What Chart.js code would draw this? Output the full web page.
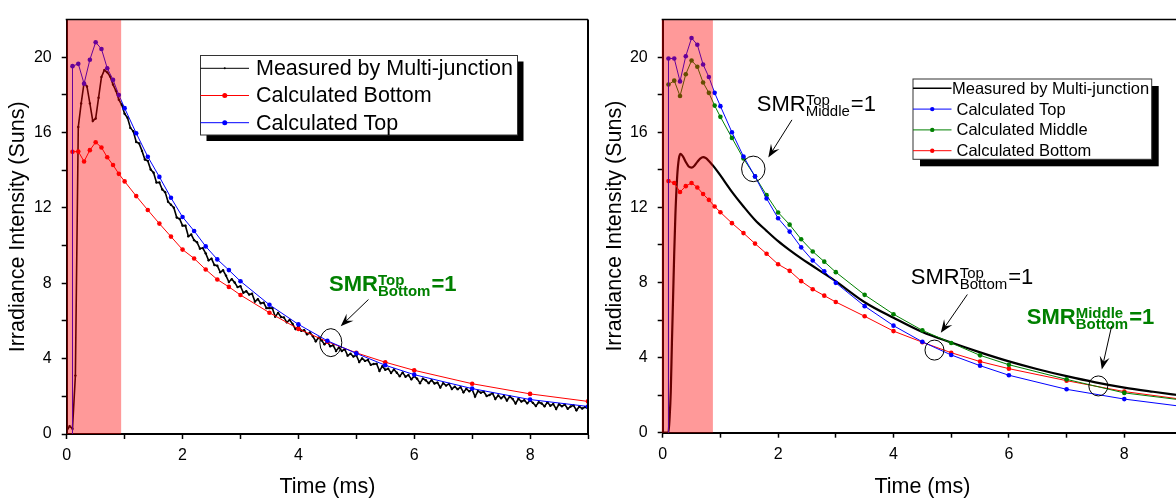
<!DOCTYPE html>
<html>
<head>
<meta charset="utf-8">
<title>Irradiance intensity</title>
<script src="https://cdn.jsdelivr.net/npm/chart.js@4.4.1/dist/chart.umd.min.js"></script>
<style>
	html, body { margin: 0; padding: 0; background: #ffffff; overflow: hidden; }
	.panel { position: absolute; top: 0; width: 600px; height: 501px; }
	#panel_left { left: 0; }
	#panel_right { left: 600px; }
</style>
</head>
<body>
<div class="panel" id="panel_left"><canvas id="chart_left" width="600" height="501"></canvas></div>
<div class="panel" id="panel_right"><canvas id="chart_right" width="600" height="501"></canvas></div>
<script>
//
// Time stamps (ms) of the calculated points, shared by both panels.
//	Note : the first point is the vertical rise from zero.
//
const calc_time = [ 0.1, 0.1, 0.2, 0.3, 0.4, 0.5, 0.6, 0.7, 0.8, 0.9, 1.0,
	1.2, 1.4, 1.6, 1.8, 2.0, 2.2, 2.4, 2.6, 2.8, 3.0,
	3.5, 4.0, 4.5, 5.0, 5.5, 6.0, 7.0, 8.0, 9.0 ];

// Left panel : calculated from the top and bottom isotype cells.
const left_top = [ 0, 19.53, 19.65, 18.6, 19.87, 20.8, 20.44, 19.42, 18.8, 18.0, 17.3,
	15.97, 14.72, 13.65, 12.54, 11.52, 10.78, 9.96, 9.27, 8.7, 8.11,
	6.86, 5.82, 4.95, 4.28, 3.65, 3.15, 2.41, 1.83, 1.46 ];
const left_bottom = [ 0, 14.98, 15.0, 14.47, 15.07, 15.49, 15.21, 14.69, 14.28, 13.81, 13.41,
	12.63, 11.89, 11.17, 10.48, 9.79, 9.32, 8.73, 8.2, 7.81, 7.38,
	6.44, 5.58, 4.9, 4.31, 3.81, 3.38, 2.67, 2.13, 1.73 ];

// Left panel : raw multi-junction record, one sample every 0.05 ms.
const measured_step = 0.05;
const left_measured = [
	0.15, 0.42, 0.28, 3.1, 16.3, 17.55, 18.65, 18.45, 17.55, 16.62,
	16.75, 17.85, 18.95, 19.32, 19.2, 18.98, 18.55, 18.22, 17.75, 17.48,
	17.0, 16.79, 16.25, 16.07, 15.5, 15.43, 15.03, 14.57, 14.5, 14.04,
	13.87, 13.35, 13.35, 12.98, 12.84, 12.33, 12.17, 12.01, 11.49, 11.42,
	11.06, 11.06, 10.5, 10.59, 10.29, 10.18, 9.84, 9.87, 9.59, 9.22,
	9.31, 8.97, 8.93, 8.59, 8.69, 8.41, 8.07, 8.22, 8.04, 7.8,
	7.85, 7.5, 7.58, 7.4, 7.45, 7.03, 7.16, 6.94, 6.97, 6.68,
	6.68, 6.68, 6.23, 6.43, 6.21, 6.19, 5.93, 6.06, 5.84, 5.57,
	5.72, 5.48, 5.51, 5.29, 5.39, 5.19, 4.92, 5.11, 4.98, 4.76,
	4.9, 4.66, 4.71, 4.41, 4.59, 4.41, 4.5, 4.16, 4.26, 4.11,
	4.18, 3.82, 4.01, 3.88, 3.93, 3.67, 3.72, 3.73, 3.35, 3.6,
	3.41, 3.47, 3.24, 3.43, 3.25, 3.07, 3.26, 3.04, 3.13, 2.91,
	3.07, 2.93, 2.7, 2.94, 2.85, 2.7, 2.86, 2.68, 2.73, 2.47,
	2.7, 2.57, 2.66, 2.39, 2.51, 2.38, 2.49, 2.21, 2.4, 2.27,
	2.37, 1.99, 2.28, 2.19, 2.24, 2.02, 2.07, 2.17, 1.86, 2.05,
	1.9, 2.02, 1.78, 1.99, 1.86, 1.62, 1.87, 1.72, 1.79, 1.63,
	1.78, 1.65, 1.49, 1.69, 1.62, 1.47, 1.68, 1.5, 1.59, 1.33,
	1.58, 1.47, 1.56, 1.34, 1.46, 1.52, 1.26, 1.45, 1.35, 1.43,
	1.35 ];

// Right panel : calculated from the top, middle and bottom isotype cells.
const right_top = [ 0, 19.93, 19.93, 18.71, 20.05, 21.02, 20.66, 19.61, 18.94, 18.1, 17.39,
	16.0, 14.71, 13.65, 12.47, 11.42, 10.71, 9.87, 9.17, 8.6, 7.98,
	6.74, 5.7, 4.84, 4.14, 3.57, 3.06, 2.31, 1.79, 1.4 ];
const right_middle = [ 0, 18.54, 18.75, 17.93, 19.09, 19.82, 19.49, 18.65, 18.1, 17.42, 16.82,
	15.7, 14.6, 13.65, 12.65, 11.73, 11.08, 10.3, 9.65, 9.11, 8.55,
	7.34, 6.31, 5.45, 4.78, 4.12, 3.62, 2.84, 2.12, 1.74 ];
const right_bottom = [ 0, 13.4, 13.3, 12.82, 13.13, 13.3, 13.06, 12.71, 12.4, 12.05, 11.74,
	11.16, 10.63, 10.07, 9.53, 8.97, 8.62, 8.07, 7.64, 7.3, 6.96,
	6.2, 5.41, 4.82, 4.26, 3.79, 3.41, 2.77, 2.19, 1.78 ];

// Right panel : smoothed multi-junction record.
const right_measured_time = [ 0, 0.1, 0.12, 0.14, 0.16, 0.18, 0.2, 0.22, 0.25, 0.28,
	0.31, 0.35, 0.4, 0.45, 0.5, 0.55, 0.6, 0.65, 0.7, 0.75,
	0.8, 0.85, 0.9, 1.0, 1.2, 1.4, 1.6, 1.8, 2.0, 2.2,
	2.4, 2.6, 2.8, 3.0, 3.5, 4.0, 4.5, 5.0, 5.5, 6.0,
	6.5, 7.0, 7.5, 8.0, 8.5, 9.0 ];
const right_measured = [ 0, 0, 0.8, 2.2, 4.8, 7.2, 9.6, 11.6, 13.6, 14.6,
	14.85, 14.72, 14.42, 14.18, 14.12, 14.22, 14.42, 14.6, 14.68, 14.62,
	14.47, 14.3, 14.12, 13.7, 12.83, 12.05, 11.33, 10.75, 10.2, 9.72,
	9.28, 8.88, 8.47, 8.06, 6.95, 6.12, 5.36, 4.8, 4.28, 3.8,
	3.38, 3.01, 2.68, 2.4, 2.18, 1.98 ];

// Flash pulse duration (ms) shaded on each panel.
const left_pulse = [ 0, 0.94 ];
const right_pulse = [ 0, 0.87 ];

Chart.defaults.font.family = "'Liberation Sans', Arial, sans-serif";
Chart.defaults.color = "#000000";

// Pairs a time array with a value array.
function to_points( times, values )
{
	return values.map( ( value, indice ) => ( { x: times[ indice ], y: value } ) );
}

// Hides the marker of the very first (zero) point.
function calc_radius( radius )
{
	return ( context ) => context.dataIndex === 0 ? 0 : radius;
}

//
// Translucent red band over the flash pulse, drawn above the curves.
//
const pulse_shade = {
	id: "pulseShade",
	afterDatasetsDraw( chart, args, opts )
	{
		const { ctx, chartArea, scales } = chart;
		const x0 = scales.x.getPixelForValue( opts.range[ 0 ] ) - opts.bleed;
		const x1 = scales.x.getPixelForValue( opts.range[ 1 ] );

		ctx.save();
		ctx.fillStyle = "rgba(255, 0, 0, 0.4)";
		ctx.fillRect( x0, chartArea.top, x1 - x0, chartArea.bottom - chartArea.top );
		ctx.restore();
	}
};

//
// Top and right edges of the plot frame.
//
const plot_frame = {
	id: "plotFrame",
	afterDraw( chart )
	{
		const { ctx, chartArea } = chart;

		ctx.save();
		ctx.strokeStyle = "#000000";
		ctx.lineWidth = 1.5;
		ctx.beginPath();
		ctx.moveTo( chartArea.left - 1, chartArea.top );
		ctx.lineTo( chartArea.right, chartArea.top );
		ctx.stroke();
		ctx.lineWidth = 2;
		ctx.beginPath();
		ctx.moveTo( chartArea.right, chartArea.top );
		ctx.lineTo( chartArea.right, chartArea.bottom );
		ctx.stroke();
		ctx.restore();
	}
};

//
// Boxed legend with a drop shadow, built from the dataset styles.
//
const box_legend = {
	id: "boxLegend",
	afterDraw( chart, args, opts )
	{
		const ctx = chart.ctx;

		ctx.save();
		ctx.fillStyle = "#000000";
		ctx.fillRect( opts.x + opts.shadow, opts.y + opts.shadow, opts.w, opts.h );
		ctx.fillStyle = "#ffffff";
		ctx.fillRect( opts.x, opts.y, opts.w, opts.h );
		ctx.strokeStyle = "#333333";
		ctx.lineWidth = 1;
		ctx.strokeRect( opts.x, opts.y, opts.w, opts.h );

		ctx.font = opts.font_size + "px 'Liberation Sans', Arial, sans-serif";
		ctx.textBaseline = "middle";
		ctx.textAlign = "left";

		opts.rows.forEach( ( row, indice ) =>
		{
			const dataset = chart.data.datasets[ row.index ];
			const row_y = opts.first_row + indice * opts.row_gap;

			ctx.strokeStyle = dataset.borderColor;
			ctx.lineWidth = row.width;
			ctx.beginPath();
			ctx.moveTo( opts.x, row_y );
			ctx.lineTo( opts.x + opts.sample, row_y );
			ctx.stroke();

			if ( row.marker > 0 )
			{
				ctx.fillStyle = dataset.borderColor;
				ctx.beginPath();
				ctx.arc( opts.x + opts.sample / 2, row_y, row.marker, 0, Math.PI * 2 );
				ctx.fill();
			}

			ctx.fillStyle = "#000000";
			ctx.fillText( dataset.label, opts.x + opts.sample + row.gap, row_y + 1 );
		} );

		ctx.restore();
	}
};

//
// SMR = 1 notes : label with super/subscript, a ring on the crossing and an arrow.
//
function draw_arrow( ctx, x1, y1, x2, y2 )
{
	const length = Math.hypot( x2 - x1, y2 - y1 );
	const ux = ( x2 - x1 ) / length;
	const uy = ( y2 - y1 ) / length;

	ctx.beginPath();
	ctx.moveTo( x1, y1 );
	ctx.lineTo( x2 - ux * 6, y2 - uy * 6 );
	ctx.stroke();

	ctx.beginPath();
	ctx.moveTo( x2, y2 );
	ctx.lineTo( x2 - ux * 13 - uy * 5, y2 - uy * 13 + ux * 5 );
	ctx.lineTo( x2 - ux * 8, y2 - uy * 8 );
	ctx.lineTo( x2 - ux * 13 + uy * 5, y2 - uy * 13 - ux * 5 );
	ctx.closePath();
	ctx.fill();
}

const smr_notes = {
	id: "smrNotes",
	afterDraw( chart, args, opts )
	{
		const { ctx, scales } = chart;
		const family = "'Liberation Sans', Arial, sans-serif";

		ctx.save();

		opts.notes.forEach( ( note ) =>
		{
			const weight = note.bold ? "bold " : "";
			const big = weight + "22px " + family;
			const small = weight + "15px " + family;
			const px = scales.x.getPixelForValue( note.x );
			const py = scales.y.getPixelForValue( note.y );

			// Label : SMR, superscript, subscript, then "=1".
			ctx.fillStyle = note.color;
			ctx.textBaseline = "alphabetic";
			ctx.textAlign = "left";
			ctx.font = big;
			ctx.fillText( "SMR", px, py );
			const smr_width = ctx.measureText( "SMR" ).width;
			ctx.font = small;
			ctx.fillText( note.sup, px + smr_width, py - 6 );
			ctx.fillText( note.sub, px + smr_width, py + 5 );
			const script_width = Math.max( ctx.measureText( note.sup ).width, ctx.measureText( note.sub ).width );
			ctx.font = big;
			ctx.fillText( "=1", px + smr_width + script_width + 1, py );

			// Ring around the crossing point.
			ctx.strokeStyle = "#000000";
			ctx.fillStyle = "#000000";
			ctx.lineWidth = 1;
			ctx.beginPath();
			ctx.ellipse( scales.x.getPixelForValue( note.ring.x ), scales.y.getPixelForValue( note.ring.y ),
				note.ring.rx, note.ring.ry, 0, 0, Math.PI * 2 );
			ctx.stroke();

			// Arrow from the label down to the ring.
			draw_arrow( ctx,
				scales.x.getPixelForValue( note.arrow[ 0 ] ), scales.y.getPixelForValue( note.arrow[ 1 ] ),
				scales.x.getPixelForValue( note.arrow[ 2 ] ), scales.y.getPixelForValue( note.arrow[ 3 ] ) );
		} );

		ctx.restore();
	}
};

const panel_plugins = [ pulse_shade, plot_frame, box_legend, smr_notes ];

//
// Shared axis setup : 0-9 ms and 0-22 Suns, minor ticks left unlabelled.
//
function make_scales( layout )
{
	return {
		x: {
			type: "linear",
			min: 0,
			max: 9,
			afterFit: ( scale ) => { scale.height = layout.x_height; },
			border: { display: true, color: "#000000", width: 2 },
			grid: { drawOnChartArea: false, drawTicks: true, tickLength: 5, tickWidth: 1.5, tickColor: "#000000" },
			ticks: {
				stepSize: 1,
				autoSkip: false,
				maxRotation: 0,
				padding: 7,
				color: "#000000",
				font: { size: 16 },
				callback: ( value ) => value % 2 === 0 ? value : ""
			},
			title: {
				display: true,
				text: "Time (ms)",
				color: "#000000",
				font: { size: 21.5 },
				padding: { top: 0, bottom: 1 }
			}
		},
		y: {
			type: "linear",
			min: 0,
			max: 22,
			afterFit: ( scale ) => { scale.width = layout.y_width; },
			border: { display: true, color: "#000000", width: 2 },
			grid: {
				drawOnChartArea: false,
				drawTicks: true,
				tickLength: 5,
				tickWidth: 1.5,
				tickColor: ( context ) => context.tick && context.tick.value === 22 ? "rgba(0, 0, 0, 0)" : "#000000"
			},
			ticks: {
				stepSize: 2,
				autoSkip: false,
				padding: 10,
				color: "#000000",
				font: { size: 16 },
				callback: ( value ) => value % 4 === 0 ? value : ""
			},
			title: {
				display: true,
				text: "Irradiance Intensity (Suns)",
				color: "#000000",
				font: { size: 21.5 },
				padding: { top: layout.title_left, bottom: 0 }
			}
		}
	};
}

function make_options( layout, plugin_options )
{
	return {
		responsive: false,
		animation: false,
		events: [],
		layout: { padding: { left: 0, top: 11, right: layout.pad_right, bottom: 0 } },
		scales: make_scales( layout ),
		plugins: Object.assign( {
			legend: { display: false },
			tooltip: { enabled: false }
		}, plugin_options )
	};
}

//
// Left panel : dual-junction comparison.
//
new Chart( document.getElementById( "chart_left" ),
	{
		type: "line",
		data: {
			datasets: [
				{
					label: "Measured by Multi-junction",
					data: to_points( left_measured.map( ( value, indice ) => Math.round( indice * measured_step * 100 ) / 100 ), left_measured ),
					borderColor: "#000000",
					backgroundColor: "#000000",
					borderWidth: 1.6,
					pointRadius: 1.2,
					pointBorderWidth: 0,
					tension: 0,
					order: 2
				},
				{
					label: "Calculated Bottom",
					data: to_points( calc_time, left_bottom ),
					borderColor: "#ff0000",
					backgroundColor: "#ff0000",
					borderWidth: 1,
					pointRadius: calc_radius( 2.3 ),
					pointBorderWidth: 0,
					tension: 0,
					order: 1
				},
				{
					label: "Calculated Top",
					data: to_points( calc_time, left_top ),
					borderColor: "#0000ff",
					backgroundColor: "#0000ff",
					borderWidth: 1,
					pointRadius: calc_radius( 2.3 ),
					pointBorderWidth: 0,
					tension: 0,
					order: 0
				}
			]
		},
		options: make_options(
			{ x_height: 67, y_width: 66.7, pad_right: 12, title_left: 5 },
			{
				pulseShade: { range: left_pulse, bleed: 0 },
				boxLegend: {
					x: 200.5, y: 55.5, w: 317, h: 79.5, shadow: 6,
					sample: 48.5, first_row: 68.3, row_gap: 27.2, font_size: 21.5,
					rows: [
						{ index: 0, gap: 7, marker: 1, width: 1 },
						{ index: 1, gap: 7, marker: 2.5, width: 1 },
						{ index: 2, gap: 7, marker: 2.5, width: 1 }
					]
				},
				smrNotes: {
					notes: [
						{ x: 4.53, y: 7.59, sup: "Top", sub: "Bottom", color: "#008000", bold: true,
							ring: { x: 4.56, y: 4.85, rx: 11, ry: 14 }, arrow: [ 5.21, 7.14, 4.73, 5.72 ] }
					]
				}
			} ),
		plugins: panel_plugins
	} );

//
// Right panel : triple-junction comparison (cut at the page edge).
//
new Chart( document.getElementById( "chart_right" ),
	{
		type: "line",
		data: {
			datasets: [
				{
					label: "Measured by Multi-junction",
					data: to_points( right_measured_time, right_measured ),
					borderColor: "#000000",
					backgroundColor: "#000000",
					borderWidth: 2.2,
					pointRadius: 0,
					cubicInterpolationMode: "monotone",
					order: 3
				},
				{
					label: "Calculated Top",
					data: to_points( calc_time, right_top ),
					borderColor: "#0000ff",
					backgroundColor: "#0000ff",
					borderWidth: 1,
					pointRadius: calc_radius( 2.3 ),
					pointBorderWidth: 0,
					tension: 0,
					order: 0
				},
				{
					label: "Calculated Middle",
					data: to_points( calc_time, right_middle ),
					borderColor: "#008000",
					backgroundColor: "#008000",
					borderWidth: 1,
					pointRadius: calc_radius( 2.3 ),
					pointBorderWidth: 0,
					tension: 0,
					order: 1
				},
				{
					label: "Calculated Bottom",
					data: to_points( calc_time, right_bottom ),
					borderColor: "#ff0000",
					backgroundColor: "#ff0000",
					borderWidth: 1,
					pointRadius: calc_radius( 2.3 ),
					pointBorderWidth: 0,
					tension: 0,
					order: 2
				}
			]
		},
		options: make_options(
			{ x_height: 68.3, y_width: 62.7, pad_right: 18, title_left: 2 },
			{
				pulseShade: { range: right_pulse, bleed: 1 },
				boxLegend: {
					x: 313, y: 79, w: 238.7, h: 80.3, shadow: 7,
					sample: 38.5, first_row: 88.3, row_gap: 20.8, font_size: 16.5,
					rows: [
						{ index: 0, gap: 0.5, marker: 0, width: 1.5 },
						{ index: 1, gap: 5, marker: 2.2, width: 1 },
						{ index: 2, gap: 5, marker: 2.2, width: 1 },
						{ index: 3, gap: 5, marker: 2.2, width: 1 }
					]
				},
				smrNotes: {
					notes: [
						{ x: 1.63, y: 17.13, sup: "Top", sub: "Middle", color: "#000000", bold: false,
							ring: { x: 1.57, y: 14.05, rx: 11.7, ry: 12.8 }, arrow: [ 2.24, 16.66, 1.83, 14.66 ] },
						{ x: 4.30, y: 7.91, sup: "Top", sub: "Bottom", color: "#000000", bold: false,
							ring: { x: 4.71, y: 4.40, rx: 9.5, ry: 10 }, arrow: [ 5.28, 7.36, 4.82, 5.32 ] },
						{ x: 6.31, y: 5.79, sup: "Middle", sub: "Bottom", color: "#008000", bold: true,
							ring: { x: 7.55, y: 2.49, rx: 9.5, ry: 10 }, arrow: [ 7.78, 5.67, 7.61, 3.36 ] }
					]
				}
			} ),
		plugins: panel_plugins
	} );
</script>
</body>
</html>
